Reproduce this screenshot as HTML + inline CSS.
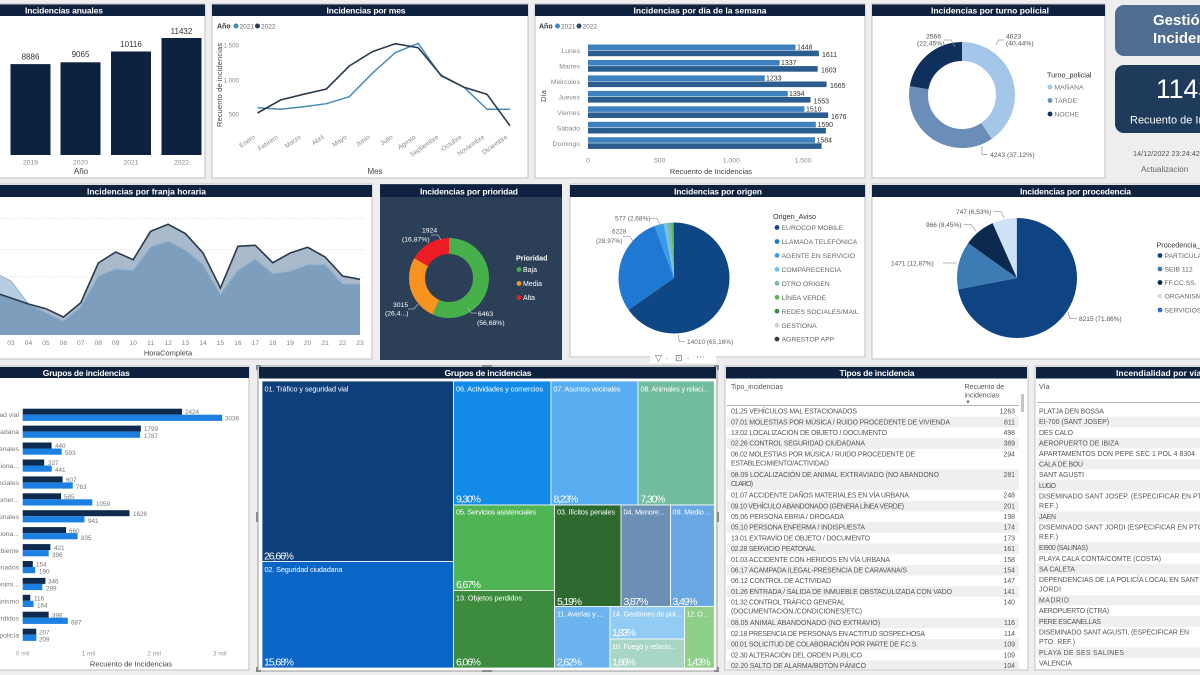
<!DOCTYPE html>
<html><head><meta charset="utf-8">
<style>
html,body{margin:0;padding:0;background:#eeeeee;overflow:hidden;}
svg{display:block;font-family:"Liberation Sans",sans-serif;}
.tt{font-weight:bold;font-size:8.5px;fill:#fff;}
.s7{font-size:7px;fill:#666;}
.s7d{font-size:7px;fill:#444;}
.ax{font-size:7.5px;fill:#444;}
.row{font-size:6.9px;fill:#555;}
.w{fill:#fff;}
</style></head><body>
<svg width="1200" height="675" viewBox="0 0 1200 675" xmlns="http://www.w3.org/2000/svg">
<rect width="1200" height="675" fill="#eeeeee"/>

<!-- ============ PANEL A: Incidencias anuales ============ -->
<rect x="-40" y="4" width="245" height="174" fill="#fff" stroke="#c2c2c2"/>
<rect x="-40" y="4.5" width="245" height="11.5" fill="#0e2240"/>
<text x="64" y="13.5" text-anchor="middle" class="tt" textLength="78">Incidencias anuales</text>
<g fill="#0c2240">
<rect x="10.5" y="64.1" width="40" height="90.9"/>
<rect x="60.5" y="62.3" width="40" height="92.7"/>
<rect x="111" y="51.5" width="40" height="103.5"/>
<rect x="161.5" y="38" width="40" height="117"/>
</g>
<g font-size="8px" fill="#333" text-anchor="middle">
<text x="30.5" y="59.5">8886</text>
<text x="80.5" y="57">9065</text>
<text x="131" y="47">10116</text>
<text x="181.5" y="34">11432</text>
</g>
<g font-size="6.8px" text-anchor="middle" fill="#888">
<text x="30.5" y="164.5">2019</text>
<text x="80.5" y="164.5">2020</text>
<text x="131" y="164.5">2021</text>
<text x="181.5" y="164.5">2022</text>
</g>
<text x="81" y="174" text-anchor="middle" font-size="8px" fill="#444">Año</text>

<!-- ============ PANEL B: Incidencias por mes ============ -->
<rect x="212" y="4" width="316" height="174" fill="#fff" stroke="#c2c2c2"/>
<rect x="212" y="4.5" width="316" height="11.5" fill="#0e2240"/>
<text x="366" y="13.5" text-anchor="middle" class="tt" textLength="79">Incidencias por mes</text>
<text x="217" y="28.5" font-size="7px" font-weight="bold" fill="#333">Año</text>
<circle cx="236" cy="26" r="2.5" fill="#3f8cc0"/>
<text x="239.5" y="28.5" font-size="6.5px" fill="#666">2021</text>
<circle cx="257.5" cy="26" r="2.5" fill="#2d3d4f"/>
<text x="261" y="28.5" font-size="6.5px" fill="#666">2022</text>
<g font-size="6.2px" text-anchor="end" fill="#888">
<text x="239" y="47.5">1.500</text>
<text x="239" y="82.5">1.000</text>
<text x="239" y="116.5">500</text>
</g>
<text transform="translate(222 85) rotate(-90)" text-anchor="middle" class="ax" textLength="84">Recuento de incidencias</text>
<polyline fill="none" stroke="#4a8cba" stroke-width="1.5" points="257.5,107.7 280.5,109.3 303.4,106.7 326.4,103.7 349.3,96.7 372.3,73.3 395.2,52.7 418.2,43.3 441.1,76 464.1,87.3 487,109.3 510,109.3"/>
<polyline fill="none" stroke="#2c3b4c" stroke-width="1.6" points="257.5,113 280.5,100 303.4,94.3 326.4,89 349.3,66 372.3,51.7 395.2,43.7 418.2,47.7 441.1,75.3 464.1,87.3 487,94.3 510,125.7"/>
<g font-size="6.5px" fill="#888" text-anchor="end">
<text transform="translate(255.5 138) rotate(-35)">Enero</text>
<text transform="translate(278.5 138) rotate(-35)">Febrero</text>
<text transform="translate(301.4 138) rotate(-35)">Marzo</text>
<text transform="translate(324.4 138) rotate(-35)">Abril</text>
<text transform="translate(347.3 138) rotate(-35)">Mayo</text>
<text transform="translate(370.3 138) rotate(-35)">Junio</text>
<text transform="translate(393.2 138) rotate(-35)">Julio</text>
<text transform="translate(416.2 138) rotate(-35)">Agosto</text>
<text transform="translate(439.1 138) rotate(-35)">Septiembre</text>
<text transform="translate(462.1 138) rotate(-35)">Octubre</text>
<text transform="translate(485 138) rotate(-35)">Noviembre</text>
<text transform="translate(508 138) rotate(-35)">Diciembre</text>
</g>
<text x="375" y="174" text-anchor="middle" font-size="8px" fill="#444">Mes</text>

<!-- ============ PANEL C: día de la semana ============ -->
<rect x="535" y="4" width="330" height="174" fill="#fff" stroke="#c2c2c2"/>
<rect x="535" y="4.5" width="330" height="11.5" fill="#0e2240"/>
<text x="700" y="13.5" text-anchor="middle" class="tt" textLength="133">Incidencias por día de la semana</text>
<text x="539" y="28.5" font-size="7px" font-weight="bold" fill="#333">Año</text>
<circle cx="557.5" cy="26" r="2.5" fill="#3b86c4"/>
<text x="561" y="28.5" font-size="6.5px" fill="#666">2021</text>
<circle cx="579" cy="26" r="2.5" fill="#27486c"/>
<text x="582.5" y="28.5" font-size="6.5px" fill="#666">2022</text>
<g fill="#3d82bf">
<rect x="588" y="44.5" width="207.5" height="5.6"/>
<rect x="588" y="60" width="191.6" height="5.6"/>
<rect x="588" y="75.4" width="176.7" height="5.6"/>
<rect x="588" y="90.9" width="199.8" height="5.6"/>
<rect x="588" y="106.3" width="216.4" height="5.6"/>
<rect x="588" y="121.8" width="227.8" height="5.6"/>
<rect x="588" y="137.2" width="227" height="5.6"/>
</g>
<g fill="#2b5d8e">
<rect x="588" y="50.6" width="230.9" height="5.6"/>
<rect x="588" y="66.1" width="229.7" height="5.6"/>
<rect x="588" y="81.5" width="238.6" height="5.6"/>
<rect x="588" y="97" width="222.5" height="5.6"/>
<rect x="588" y="112.4" width="240.2" height="5.6"/>
<rect x="588" y="127.9" width="237.9" height="5.6"/>
<rect x="588" y="143.3" width="233.6" height="5.6"/>
</g>
<g font-size="7px" fill="#333">
<text x="797" y="49.5">1448</text><text x="822" y="57">1611</text>
<text x="781" y="65">1337</text><text x="821" y="72.5">1603</text>
<text x="766" y="80.5">1233</text><text x="830" y="88">1665</text>
<text x="789" y="96">1394</text><text x="813.5" y="103.5">1553</text>
<text x="806" y="111.5">1510</text><text x="831" y="119">1676</text>
<text x="817.5" y="127">1590</text>
<text x="816.5" y="142.5">1584</text>
</g>
<g font-size="6.8px" fill="#888" text-anchor="end">
<text x="580" y="53">Lunes</text>
<text x="580" y="68.5">Martes</text>
<text x="580" y="84">Miércoles</text>
<text x="580" y="99.5">Jueves</text>
<text x="580" y="115">Viernes</text>
<text x="580" y="130.5">Sábado</text>
<text x="580" y="146">Domingo</text>
</g>
<text transform="translate(546 96) rotate(-90)" text-anchor="middle" class="ax">Día</text>
<g font-size="6.8px" fill="#888" text-anchor="middle">
<text x="588" y="162.5">0</text>
<text x="659.7" y="162.5">500</text>
<text x="731.3" y="162.5">1.000</text>
<text x="803" y="162.5">1.500</text>
</g>
<text x="711" y="174" text-anchor="middle" class="ax">Recuento de Incidencias</text>

<!-- ============ PANEL D: turno policial ============ -->
<rect x="872" y="4" width="233" height="174" fill="#fff" stroke="#c2c2c2"/>
<rect x="872" y="4.5" width="233" height="11.5" fill="#0e2240"/>
<text x="990" y="13.5" text-anchor="middle" class="tt" textLength="118">Incidencias por turno policial</text>
<g transform="rotate(-90 962 95)" fill="none" stroke-width="19">
<circle cx="962" cy="95" r="43.5" stroke="#a3c6e9" stroke-dasharray="110.53 273.32" stroke-dashoffset="0"/>
<circle cx="962" cy="95" r="43.5" stroke="#6a8eb7" stroke-dasharray="101.46 273.32" stroke-dashoffset="-110.53"/>
<circle cx="962" cy="95" r="43.5" stroke="#0f2f5d" stroke-dasharray="61.33 273.32" stroke-dashoffset="-211.99"/>
</g>
<g font-size="6.8px" fill="#555">
<text x="926" y="38.5">2566</text>
<text x="917" y="45.5">(22,45%)</text>
<text x="1006" y="38.5">4623</text>
<text x="1006" y="45.5">(40,44%)</text>
<text x="990" y="157">4243 (37,12%)</text>
</g>
<g stroke="#999" stroke-width="0.7" fill="none">
<polyline points="944,40 951,40 955,47"/>
<polyline points="1004,40 999,40 996,45"/>
<polyline points="982,146 982,154.5 988,154.5"/>
</g>
<text x="1047" y="77.5" font-size="7.2px" fill="#333">Turno_policial</text>
<circle cx="1050" cy="87" r="2.4" fill="#a3c6e9"/><text x="1054.5" y="89.5" font-size="6.8px" fill="#777">MAÑANA</text>
<circle cx="1050" cy="100.5" r="2.4" fill="#6a8eb7"/><text x="1054.5" y="103" font-size="6.8px" fill="#777">TARDE</text>
<circle cx="1050" cy="114" r="2.4" fill="#0f2f5d"/><text x="1054.5" y="116.5" font-size="6.8px" fill="#777">NOCHE</text>

<!-- ============ RIGHT CARD ============ -->
<rect x="1115" y="5" width="180" height="51" rx="9" fill="#4e6d90"/>
<text x="1153" y="25" font-size="15px" font-weight="bold" fill="#fff">Gestión de</text>
<text x="1153" y="43" font-size="15px" font-weight="bold" fill="#fff">Incidencias</text>
<rect x="1115" y="65" width="180" height="68" rx="9" fill="#1f3b5c"/>
<text x="1156" y="98" font-size="26.5px" fill="#fff">11432</text>
<text x="1130" y="123.5" font-size="11px" fill="#fff">Recuento de Incidencias</text>
<text x="1133" y="156" font-size="7.3px" fill="#555">14/12/2022 23:24:42</text>
<text x="1141" y="172" font-size="8px" fill="#666">Actualizacion</text>

<!-- ============ PANEL E: franja horaria ============ -->
<rect x="-40" y="184" width="412" height="175" fill="#fff" stroke="#c2c2c2"/>
<rect x="-40" y="185" width="412" height="12" fill="#0e2240"/>
<text x="146.5" y="194.5" text-anchor="middle" class="tt" textLength="119">Incidencias por franja horaria</text>
<g stroke="#e2e2e2" stroke-dasharray="1.5 1.5" stroke-width="0.8">
<line x1="0" y1="218.7" x2="365" y2="218.7"/>
<line x1="0" y1="249.7" x2="365" y2="249.7"/>
<line x1="0" y1="277" x2="365" y2="277"/>
</g>
<path fill="#a8bacb" d="M-10,335 L-10,292 L0,294.3 L11,298 L28.5,304 L45.9,308.7 L63.4,317 L80.8,302.7 L98.3,263 L115.7,252 L133.2,259.7 L150.6,231.3 L168.1,224.3 L185.5,233.7 L203,253 L220.4,288 L237.9,246.3 L255.3,245.3 L272.8,262.7 L290.2,253 L307.7,247.3 L325.1,257 L342.6,276 L360,279.3 L360,335 Z"/>
<path fill="#b7cde2" d="M-10,335 L-10,274 L0,275.5 L11,281 L28.5,304 L45.9,312.7 L63.4,321 L80.8,307 L98.3,276 L115.7,269 L133.2,270.3 L150.6,247 L168.1,241.3 L185.5,250.3 L203,264.7 L220.4,294.3 L237.9,270.3 L255.3,259.3 L272.8,273.7 L290.2,271.3 L307.7,264.7 L325.1,264.7 L342.6,284 L360,284 L360,335 Z"/>
<path fill="#7e9ebe" d="M-10,335 L-10,292 L0,294.3 L11,298 L28.5,304 L45.9,312.7 L63.4,321 L80.8,307 L98.3,276 L115.7,269 L133.2,270.3 L150.6,247 L168.1,241.3 L185.5,250.3 L203,264.7 L220.4,294.3 L237.9,270.3 L255.3,259.3 L272.8,273.7 L290.2,271.3 L307.7,264.7 L325.1,264.7 L342.6,284 L360,284 L360,335 Z"/>
<polyline fill="none" stroke="#90b0cd" stroke-width="1" points="-10,274 0,275.5 11,281 28.5,304 45.9,312.7 63.4,321 80.8,307 98.3,276 115.7,269 133.2,270.3 150.6,247 168.1,241.3 185.5,250.3 203,264.7 220.4,294.3 237.9,270.3 255.3,259.3 272.8,273.7 290.2,271.3 307.7,264.7 325.1,264.7 342.6,284 360,284"/>
<polyline fill="none" stroke="#2b3a4b" stroke-width="1.6" points="-10,292 0,294.3 11,298 28.5,304 45.9,308.7 63.4,317 80.8,302.7 98.3,263 115.7,252 133.2,259.7 150.6,231.3 168.1,224.3 185.5,233.7 203,253 220.4,288 237.9,246.3 255.3,245.3 272.8,262.7 290.2,253 307.7,247.3 325.1,257 342.6,276 360,279.3"/>
<g font-size="6.8px" fill="#888" text-anchor="middle">
<text x="11" y="345">03</text><text x="28.5" y="345">04</text><text x="45.9" y="345">05</text><text x="63.4" y="345">06</text><text x="80.8" y="345">07</text><text x="98.3" y="345">08</text><text x="115.7" y="345">09</text><text x="133.2" y="345">10</text><text x="150.6" y="345">11</text><text x="168.1" y="345">12</text><text x="185.5" y="345">13</text><text x="203" y="345">14</text><text x="220.4" y="345">15</text><text x="237.9" y="345">16</text><text x="255.3" y="345">17</text><text x="272.8" y="345">18</text><text x="290.2" y="345">19</text><text x="307.7" y="345">20</text><text x="325.1" y="345">21</text><text x="342.6" y="345">22</text><text x="360" y="345">23</text>
</g>
<text x="168" y="355.5" text-anchor="middle" class="ax">HoraCompleta</text>

<!-- ============ PANEL F: prioridad ============ -->
<rect x="380" y="184" width="182" height="176" fill="#2b3f57"/>
<rect x="380" y="185" width="182" height="12" fill="#0e2240"/>
<text x="469" y="194.5" text-anchor="middle" class="tt" textLength="98">Incidencias por prioridad</text>
<g transform="rotate(-90 449 278)" fill="none" stroke-width="16">
<circle cx="449" cy="278" r="32" stroke="#47b04b" stroke-dasharray="113.96 201.06" stroke-dashoffset="0"/>
<circle cx="449" cy="278" r="32" stroke="#f7931e" stroke-dasharray="53.18 201.06" stroke-dashoffset="-113.96"/>
<circle cx="449" cy="278" r="32" stroke="#ec1c24" stroke-dasharray="33.92 201.06" stroke-dashoffset="-167.14"/>
</g>
<g font-size="6.8px" fill="#fff">
<text x="422" y="232.5">1924</text>
<text x="402" y="241.5">(16,87%)</text>
<text x="393" y="307">3015</text>
<text x="385" y="315.5">(26,4...)</text>
<text x="478" y="316">6463</text>
<text x="477" y="325">(56,68%)</text>
</g>
<g stroke="#b0b8c4" stroke-width="0.7" fill="none">
<polyline points="431,235 438,235 441,240"/>
<polyline points="408,309 414,309 418,304"/>
<polyline points="477,313 471,313 468,308"/>
</g>
<text x="516" y="260.5" font-size="7.2px" font-weight="bold" fill="#fff">Prioridad</text>
<circle cx="519" cy="269.5" r="2.4" fill="#47b04b"/><text x="523" y="272" font-size="7px" fill="#fff">Baja</text>
<circle cx="519" cy="283.5" r="2.4" fill="#f7931e"/><text x="523" y="286" font-size="7px" fill="#fff">Media</text>
<circle cx="519" cy="297.5" r="2.4" fill="#ec1c24"/><text x="523" y="300" font-size="7px" fill="#fff">Alta</text>

<!-- ============ PANEL G: origen ============ -->
<rect x="570" y="184" width="295" height="173" fill="#fff" stroke="#c2c2c2"/>
<rect x="570" y="185" width="295" height="12" fill="#0e2240"/>
<text x="718" y="194.5" text-anchor="middle" class="tt" textLength="88">Incidencias por origen</text>
<g transform="rotate(-90 674 278)" fill="none" stroke-width="55.5">
<circle cx="674" cy="278" r="27.75" stroke="#0f4684" stroke-dasharray="113.61 174.36" stroke-dashoffset="0"/>
<circle cx="674" cy="278" r="27.75" stroke="#1f78d1" stroke-dasharray="50.51 174.36" stroke-dashoffset="-113.61"/>
<circle cx="674" cy="278" r="27.75" stroke="#3c9be6" stroke-dasharray="4.67 174.36" stroke-dashoffset="-164.12"/>
<circle cx="674" cy="278" r="27.75" stroke="#6fc0ea" stroke-dasharray="1.92 174.36" stroke-dashoffset="-168.79"/>
<circle cx="674" cy="278" r="27.75" stroke="#7fb7a7" stroke-dasharray="1.74 174.36" stroke-dashoffset="-170.71"/>
<circle cx="674" cy="278" r="27.75" stroke="#5cb85c" stroke-dasharray="1.05 174.36" stroke-dashoffset="-172.45"/>
<circle cx="674" cy="278" r="27.75" stroke="#3c8a4a" stroke-dasharray="0.52 174.36" stroke-dashoffset="-173.5"/>
<circle cx="674" cy="278" r="27.75" stroke="#c9d8cc" stroke-dasharray="0.17 174.36" stroke-dashoffset="-174.02"/>
<circle cx="674" cy="278" r="27.75" stroke="#3a3a3a" stroke-dasharray="0.17 174.36" stroke-dashoffset="-174.19"/>
</g>
<g font-size="6.5px" fill="#666">
<text x="615" y="220.5">577 (2,68%)</text>
<text x="612" y="233.5">6228</text>
<text x="596" y="243">(28,97%)</text>
<text x="687" y="344">14010 (65,16%)</text>
</g>
<g stroke="#999" stroke-width="0.7" fill="none">
<polyline points="650,218.3 657,218.3 660,224"/>
<polyline points="623,236.7 630,236.7 633,241"/>
<polyline points="678.3,335 679.3,341.7 685,341.7"/>
</g>
<text x="773" y="219" font-size="7.2px" fill="#333">Origen_Aviso</text>
<g font-size="6.8px" fill="#666">
<circle cx="777" cy="227.5" r="2.4" fill="#0f4684"/><text x="781.5" y="230">EUROCOP MOBILE</text>
<circle cx="777" cy="241.5" r="2.4" fill="#1f78d1"/><text x="781.5" y="244">LLAMADA TELEFÓNICA</text>
<circle cx="777" cy="255.4" r="2.4" fill="#3c9be6"/><text x="781.5" y="258">AGENTE EN SERVICIO</text>
<circle cx="777" cy="269.4" r="2.4" fill="#6fc0ea"/><text x="781.5" y="272">COMPARECENCIA</text>
<circle cx="777" cy="283.3" r="2.4" fill="#7fb7a7"/><text x="781.5" y="286">OTRO ORIGEN</text>
<circle cx="777" cy="297.3" r="2.4" fill="#5cb85c"/><text x="781.5" y="300">LÍNEA VERDE</text>
<circle cx="777" cy="311.2" r="2.4" fill="#3c8a4a"/><text x="781.5" y="314">REDES SOCIALES/MAIL</text>
<circle cx="777" cy="325.2" r="2.4" fill="#c9d8cc"/><text x="781.5" y="328">GESTIONA</text>
<circle cx="777" cy="339.1" r="2.4" fill="#3a3a3a"/><text x="781.5" y="341.5">AGRESTOP APP</text>
</g>

<!-- ============ PANEL H: procedencia ============ -->
<rect x="872" y="184" width="400" height="175" fill="#fff" stroke="#c2c2c2"/>
<rect x="872" y="185" width="400" height="12" fill="#0e2240"/>
<text x="1075.5" y="194.5" text-anchor="middle" class="tt" textLength="111">Incidencias por procedencia</text>
<g transform="rotate(-90 1017 278)" fill="none" stroke-width="60">
<circle cx="1017" cy="278" r="30" stroke="#0e4481" stroke-dasharray="135.46 188.5" stroke-dashoffset="0"/>
<circle cx="1017" cy="278" r="30" stroke="#3c7bb3" stroke-dasharray="24.26 188.5" stroke-dashoffset="-135.46"/>
<circle cx="1017" cy="278" r="30" stroke="#0b2a4e" stroke-dasharray="15.93 188.5" stroke-dashoffset="-159.72"/>
<circle cx="1017" cy="278" r="30" stroke="#cde3f5" stroke-dasharray="12.31 188.5" stroke-dashoffset="-175.65"/>
<circle cx="1017" cy="278" r="30" stroke="#2e6bc8" stroke-dasharray="0.55 188.5" stroke-dashoffset="-187.96"/>
</g>
<g font-size="6.5px" fill="#555">
<text x="956" y="214">747 (6,53%)</text>
<text x="926" y="227">966 (8,45%)</text>
<text x="891" y="265.5">1471 (12,87%)</text>
<text x="1079" y="321">8215 (71,86%)</text>
</g>
<g stroke="#999" stroke-width="0.7" fill="none">
<polyline points="994,211.5 1001,211.5 1004,218"/>
<polyline points="964,224.5 971,224.5 976,231"/>
<polyline points="943,263 957,263"/>
<polyline points="1068,312 1070,318.5 1077,318.5"/>
</g>
<text x="1156.5" y="247.5" font-size="7.2px" fill="#333">Procedencia_Aviso</text>
<g font-size="6.8px" fill="#666">
<circle cx="1160" cy="255.5" r="2.4" fill="#0e4481"/><text x="1164.5" y="258">PARTICULAR</text>
<circle cx="1160" cy="269" r="2.4" fill="#3c7bb3"/><text x="1164.5" y="271.5">SEIB 112</text>
<circle cx="1160" cy="282.5" r="2.4" fill="#0b2a4e"/><text x="1164.5" y="285">FF.CC.SS.</text>
<circle cx="1160" cy="296" r="2.4" fill="#d3dde8"/><text x="1164.5" y="298.5">ORGANISMOS</text>
<circle cx="1160" cy="310" r="2.4" fill="#2e6bc8"/><text x="1164.5" y="312.5">SERVICIOS</text>
</g>

<!-- ============ PANEL I: Grupos de incidencias (bars) ============ -->
<rect x="-80" y="366" width="329" height="304" fill="#fff" stroke="#c2c2c2"/>
<rect x="-80" y="367" width="329" height="11" fill="#0e2240"/>
<text x="86.3" y="376" text-anchor="middle" class="tt" textLength="87">Grupos de incidencias</text>
<g fill="#0d2a4f">
<rect x="22.7" y="408.7" width="159.3" height="6"/>
<rect x="22.7" y="425.6" width="118.2" height="6"/>
<rect x="22.7" y="442.5" width="28.9" height="6"/>
<rect x="22.7" y="459.5" width="21.5" height="6"/>
<rect x="22.7" y="476.4" width="39.9" height="6"/>
<rect x="22.7" y="493.3" width="38.4" height="6"/>
<rect x="22.7" y="510.2" width="106.8" height="6"/>
<rect x="22.7" y="527.1" width="43.4" height="6"/>
<rect x="22.7" y="544.1" width="27.7" height="6"/>
<rect x="22.7" y="561" width="10.1" height="6"/>
<rect x="22.7" y="577.9" width="22.7" height="6"/>
<rect x="22.7" y="594.8" width="7.6" height="6"/>
<rect x="22.7" y="611.7" width="26" height="6"/>
<rect x="22.7" y="628.7" width="13.6" height="6"/>
</g>
<g fill="#1c80e3">
<rect x="22.7" y="414.7" width="199.5" height="6.2"/>
<rect x="22.7" y="431.6" width="117.4" height="6.2"/>
<rect x="22.7" y="448.5" width="39" height="6.2"/>
<rect x="22.7" y="465.5" width="29" height="6.2"/>
<rect x="22.7" y="482.4" width="50.1" height="6.2"/>
<rect x="22.7" y="499.3" width="69.6" height="6.2"/>
<rect x="22.7" y="516.2" width="61.8" height="6.2"/>
<rect x="22.7" y="533.1" width="54.9" height="6.2"/>
<rect x="22.7" y="550.1" width="26" height="6.2"/>
<rect x="22.7" y="567" width="12.5" height="6.2"/>
<rect x="22.7" y="583.9" width="19.6" height="6.2"/>
<rect x="22.7" y="600.8" width="10.8" height="6.2"/>
<rect x="22.7" y="617.7" width="45.1" height="6.2"/>
<rect x="22.7" y="634.7" width="13.7" height="6.2"/>
</g>
<g font-size="6.3px" fill="#777">
<text x="185" y="414">2424</text><text x="225" y="420.5">3036</text>
<text x="144" y="431">1799</text><text x="144" y="438">1787</text>
<text x="55" y="448">440</text><text x="65" y="455">593</text>
<text x="48" y="465">327</text><text x="55" y="472">441</text>
<text x="66" y="482">607</text><text x="76" y="489">763</text>
<text x="64" y="499">585</text><text x="96" y="506">1059</text>
<text x="133" y="516">1626</text><text x="88" y="523">941</text>
<text x="69" y="533">660</text><text x="81" y="540">835</text>
<text x="54" y="550">421</text><text x="52" y="557">396</text>
<text x="36" y="566.5">154</text><text x="39" y="573.5">190</text>
<text x="48" y="583.5">346</text><text x="46" y="590.5">299</text>
<text x="34" y="600.5">116</text><text x="37" y="607.5">164</text>
<text x="52" y="617.5">396</text><text x="71" y="624.5">687</text>
<text x="39" y="634.5">207</text><text x="39" y="641.5">209</text>
</g>
<g font-size="6.8px" fill="#777" text-anchor="end">
<text x="19" y="417">01. Tráfico y seguridad vial</text>
<text x="19" y="434">02. Seguridad ciudadana</text>
<text x="19" y="451">03. Ilícitos penales</text>
<text x="19" y="468">04. Menores y relaciona...</text>
<text x="19" y="485">05. Servicios asistenciales</text>
<text x="19" y="502">06. Actividades y comer...</text>
<text x="19" y="519">07. Asuntos vecinales</text>
<text x="19" y="536">08. Animales y relaciona...</text>
<text x="19" y="553">09. Medio ambiente</text>
<text x="19" y="569.5">10. Fuego y relacionados</text>
<text x="19" y="586.5">11. Averías y mantenimi...</text>
<text x="19" y="603.5">12. Orden y urbanismo</text>
<text x="19" y="620.5">13. Objetos perdidos</text>
<text x="19" y="637.5">14. Gestiones de policía</text>
</g>
<g font-size="6.5px" fill="#999" text-anchor="middle">
<text x="22.7" y="655.5">0 mil</text>
<text x="88.4" y="655.5">1 mil</text>
<text x="154.1" y="655.5">2 mil</text>
<text x="219.8" y="655.5">3 mil</text>
</g>
<text x="131" y="666.5" text-anchor="middle" class="ax">Recuento de Incidencias</text>

<!-- ============ PANEL J: treemap ============ -->
<rect x="258" y="366" width="459" height="305" fill="#fff" stroke="#9a9a9a"/>
<rect x="259" y="367" width="457" height="11.5" fill="#0e2240"/>
<text x="488" y="376.2" text-anchor="middle" class="tt" textLength="87">Grupos de incidencias</text>
<g stroke="#fff" stroke-width="0.8">
<rect x="262" y="381" width="191.5" height="180.5" fill="#0d3f7a"/>
<rect x="262" y="561.5" width="191.5" height="106.5" fill="#0a65c6"/>
<rect x="453.5" y="381" width="97.5" height="124" fill="#118ae8"/>
<rect x="551" y="381" width="87" height="124" fill="#57adf0"/>
<rect x="638" y="381" width="76.3" height="124" fill="#72bd9f"/>
<rect x="453.5" y="505" width="101" height="85.5" fill="#4fb453"/>
<rect x="453.5" y="590.5" width="101" height="77.5" fill="#3c8b3f"/>
<rect x="554.5" y="505" width="66.5" height="101.5" fill="#2e6a30"/>
<rect x="621" y="505" width="49.5" height="101.5" fill="#6c8fb6"/>
<rect x="670.5" y="505" width="43.8" height="101.5" fill="#69a7e2"/>
<rect x="554.5" y="606.5" width="55.5" height="61.5" fill="#6bb4ef"/>
<rect x="610" y="606.5" width="74.5" height="32.5" fill="#92cbf3"/>
<rect x="610" y="639" width="74.5" height="29" fill="#a8d6c5"/>
<rect x="684.5" y="606.5" width="29.8" height="61.5" fill="#8ecf8a"/>
</g>
<g font-size="7.3px" fill="#fff">
<text x="264.5" y="391.5" textLength="84">01. Tráfico y seguridad vial</text>
<text x="264.5" y="572" textLength="78">02. Seguridad ciudadana</text>
<text x="456" y="391.5" textLength="87">06. Actividades y comercios</text>
<text x="553.5" y="391.5" textLength="67">07. Asuntos vecinales</text>
<text x="640.5" y="391.5" textLength="68">08. Animales y relaci...</text>
<text x="456" y="514.5" textLength="80">05. Servicios asistenciales</text>
<text x="456" y="600.5" textLength="66">13. Objetos perdidos</text>
<text x="557" y="514.5" textLength="58">03. Ilícitos penales</text>
<text x="623.5" y="514.5" textLength="41">04. Menore...</text>
<text x="672.5" y="514.5" textLength="39">09. Medio ...</text>
<text x="557" y="616.5" textLength="46">11. Averías y ...</text>
<text x="612" y="616.5" textLength="69">14. Gestiones de pol...</text>
<text x="612" y="649" textLength="64">10. Fuego y relacio...</text>
<text x="686.5" y="616.5" textLength="21">12. O...</text>
</g>
<g font-size="10.5px" fill="#fff">
<text x="264" y="559.5" textLength="30">26,66%</text>
<text x="264" y="665.5" textLength="30">15,68%</text>
<text x="456" y="502.5" textLength="25">9,30%</text>
<text x="553.5" y="502.5" textLength="25">8,23%</text>
<text x="640.5" y="502.5" textLength="25">7,30%</text>
<text x="456" y="588" textLength="25">6,67%</text>
<text x="456" y="665.5" textLength="25">6,06%</text>
<text x="557" y="605" textLength="25">5,19%</text>
<text x="623.5" y="605" textLength="25">3,87%</text>
<text x="672.5" y="605" textLength="25">3,49%</text>
<text x="557" y="665.5" textLength="25">2,62%</text>
<text x="612" y="636" textLength="24">1,83%</text>
<text x="612" y="665.5" textLength="24">1,66%</text>
<text x="686.5" y="665.5" textLength="24">1,43%</text>
</g>
<g fill="#8a8a8a">
<rect x="256" y="365" width="5" height="2"/><rect x="256" y="365" width="2" height="5"/>
<rect x="714" y="365" width="5" height="2"/><rect x="717" y="365" width="2" height="5"/>
<rect x="256" y="670" width="5" height="2"/><rect x="256" y="667" width="2" height="5"/>
<rect x="714" y="670" width="5" height="2"/><rect x="717" y="667" width="2" height="5"/>
<rect x="256" y="512" width="2.5" height="10"/><rect x="716.5" y="512" width="2.5" height="10"/>
<rect x="482" y="365" width="10" height="2"/><rect x="482" y="670" width="10" height="2"/>
</g>
<rect x="650" y="351" width="66" height="12" fill="#fff"/>
<g font-size="9px" fill="#666" font-family="DejaVu Sans, sans-serif">
<text x="655" y="361">▽</text>
<text x="666" y="360" font-size="6px">-</text>
<text x="675" y="361">⊡</text>
<text x="687" y="360" font-size="6px">-</text>
<text x="696" y="360">···</text>
</g>

<!-- ============ PANEL K: Tipos de incidencia ============ -->
<rect x="725" y="366" width="303" height="304" fill="#fff" stroke="#c2c2c2"/>
<rect x="726" y="367" width="301" height="11.5" fill="#0e2240"/>
<text x="877" y="376.2" text-anchor="middle" class="tt" textLength="75">Tipos de incidencia</text>
<text x="731" y="389" font-size="7px" fill="#555">Tipo_incidencias</text>
<text x="964.5" y="389" font-size="7px" fill="#555">Recuento de</text>
<text x="964.5" y="397.5" font-size="7px" fill="#555">incidencias</text>
<text x="965.5" y="403.5" font-size="5px" fill="#555">▼</text>
<line x1="727" y1="405.5" x2="1019" y2="405.5" stroke="#9a9a9a" stroke-width="0.8"/>
<g fill="#efefef">
<rect x="727" y="416.7" width="292" height="10.7"/>
<rect x="727" y="438.1" width="292" height="10.7"/>
<rect x="727" y="469.4" width="292" height="20.6"/>
<rect x="727" y="500.7" width="292" height="10.7"/>
<rect x="727" y="522.1" width="292" height="10.7"/>
<rect x="727" y="543.5" width="292" height="10.7"/>
<rect x="727" y="564.9" width="292" height="10.7"/>
<rect x="727" y="586.3" width="292" height="10.7"/>
<rect x="727" y="617.6" width="292" height="10.7"/>
<rect x="727" y="639" width="292" height="10.7"/>
<rect x="727" y="660.4" width="292" height="8.6"/>
</g>
<g class="row">
<text x="731" y="413.6" textLength="126">01.25 VEHÍCULOS MAL ESTACIONADOS</text>
<text x="731" y="424.3" textLength="219">07.01 MOLESTIAS POR MÚSICA / RUIDO PROCEDENTE DE VIVIENDA</text>
<text x="731" y="435" textLength="156">13.02 LOCALIZACIÓN DE OBJETO / DOCUMENTO</text>
<text x="731" y="445.7" textLength="134">02.26 CONTROL SEGURIDAD CIUDADANA</text>
<text x="731" y="456.4" textLength="184">06.02 MOLESTIAS POR MÚSICA / RUIDO PROCEDENTE DE</text>
<text x="731" y="465.4" textLength="98">ESTABLECIMIENTO/ACTIVIDAD</text>
<text x="731" y="477" textLength="208">08.09 LOCALIZACIÓN DE ANIMAL EXTRAVIADO (NO ABANDONO</text>
<text x="731" y="486" textLength="22">CLARO)</text>
<text x="731" y="497.6" textLength="178">01.07 ACCIDENTE DAÑOS MATERIALES EN VÍA URBANA</text>
<text x="731" y="508.3" textLength="173">09.10 VEHÍCULO ABANDONADO (GENERA LÍNEA VERDE)</text>
<text x="731" y="519" textLength="113">05.06 PERSONA EBRIA / DROGADA</text>
<text x="731" y="529.7" textLength="134">05.10 PERSONA ENFERMA / INDISPUESTA</text>
<text x="731" y="540.4" textLength="139">13.01 EXTRAVÍO DE OBJETO / DOCUMENTO</text>
<text x="731" y="551.1" textLength="85">02.28 SERVICIO PEATONAL</text>
<text x="731" y="561.8" textLength="159">01.03 ACCIDENTE CON HERIDOS EN VÍA URBANA</text>
<text x="731" y="572.5" textLength="176">06.17 ACAMPADA ILEGAL-PRESENCIA DE CARAVANA/S</text>
<text x="731" y="583.2" textLength="100">06.12 CONTROL DE ACTIVIDAD</text>
<text x="731" y="593.9" textLength="221">01.26 ENTRADA / SALIDA DE INMUEBLE OBSTACULIZADA CON VADO</text>
<text x="731" y="604.6" textLength="114">01.32 CONTROL TRÁFICO GENERAL</text>
<text x="731" y="613.6" textLength="131">(DOCUMENTACIÓN./CONDICIONES/ETC)</text>
<text x="731" y="625.2" textLength="149">08.05 ANIMAL ABANDONADO (NO EXTRAVIO)</text>
<text x="731" y="635.9" textLength="194">02.18 PRESENCIA DE PERSONA/S EN ACTITUD SOSPECHOSA</text>
<text x="731" y="646.6" textLength="187">00.01 SOLICITUD DE COLABORACIÓN POR PARTE DE F.C.S.</text>
<text x="731" y="657.3" textLength="131">02.30 ALTERACIÓN DEL ORDEN PÚBLICO</text>
<text x="731" y="668" textLength="135">02.20 SALTO DE ALARMA/BOTÓN PÁNICO</text>
</g>
<g class="row" text-anchor="end">
<text x="1015" y="413.6">1263</text>
<text x="1015" y="424.3">811</text>
<text x="1015" y="435">498</text>
<text x="1015" y="445.7">389</text>
<text x="1015" y="456.4">294</text>
<text x="1015" y="477">281</text>
<text x="1015" y="497.6">248</text>
<text x="1015" y="508.3">201</text>
<text x="1015" y="519">198</text>
<text x="1015" y="529.7">174</text>
<text x="1015" y="540.4">173</text>
<text x="1015" y="551.1">161</text>
<text x="1015" y="561.8">158</text>
<text x="1015" y="572.5">154</text>
<text x="1015" y="583.2">147</text>
<text x="1015" y="593.9">141</text>
<text x="1015" y="604.6">140</text>
<text x="1015" y="625.2">116</text>
<text x="1015" y="635.9">114</text>
<text x="1015" y="646.6">109</text>
<text x="1015" y="657.3">109</text>
<text x="1015" y="668">104</text>
</g>
<rect x="1021" y="394" width="3" height="18" fill="#c4c4c4"/>

<!-- ============ PANEL L: Incendialidad por vías ============ -->
<rect x="1035" y="366" width="200" height="304" fill="#fff" stroke="#c2c2c2"/>
<rect x="1036" y="367" width="200" height="11.5" fill="#0e2240"/>
<text x="1116" y="376.2" class="tt" textLength="90">Incendialidad por vías</text>
<text x="1039" y="389" font-size="7px" fill="#555">Vía</text>
<line x1="1037" y1="402.5" x2="1200" y2="402.5" stroke="#9a9a9a" stroke-width="0.8"/>
<g fill="#efefef">
<rect x="1037" y="416.6" width="170" height="10.6"/>
<rect x="1037" y="437.8" width="170" height="10.6"/>
<rect x="1037" y="459" width="170" height="10.6"/>
<rect x="1037" y="480.2" width="170" height="10.6"/>
<rect x="1037" y="511.4" width="170" height="10.6"/>
<rect x="1037" y="542.6" width="170" height="10.6"/>
<rect x="1037" y="563.8" width="170" height="10.6"/>
<rect x="1037" y="595" width="170" height="10.6"/>
<rect x="1037" y="616.2" width="170" height="10.6"/>
<rect x="1037" y="647.4" width="170" height="10.6"/>
</g>
<g class="row">
<text x="1039" y="413.6" textLength="65">PLATJA DEN BOSSA</text>
<text x="1039" y="424.2" textLength="70">EI-700 (SANT JOSEP)</text>
<text x="1039" y="434.8" textLength="34">DES CALO</text>
<text x="1039" y="445.4" textLength="80">AEROPUERTO DE IBIZA</text>
<text x="1039" y="456" textLength="156">APARTAMENTOS DON PEPE SEC 1 POL 4 8304</text>
<text x="1039" y="466.6" textLength="44">CALA DE BOU</text>
<text x="1039" y="477.2" textLength="45">SANT AGUSTI</text>
<text x="1039" y="487.8" textLength="17">LUGO</text>
<text x="1039" y="498.4" textLength="170">DISEMINADO SANT JOSEP. (ESPECIFICAR EN PTO.</text>
<text x="1039" y="507.9" textLength="19">REF.)</text>
<text x="1039" y="519" textLength="17">JAEN</text>
<text x="1039" y="529.6" textLength="166">DISEMINADO SANT JORDI (ESPECIFICAR EN PTO.</text>
<text x="1039" y="539.1" textLength="19">REF.)</text>
<text x="1039" y="550.2" textLength="49">EI900 (SALINAS)</text>
<text x="1039" y="560.8" textLength="122">PLAYA CALA CONTA/COMTE (COSTA)</text>
<text x="1039" y="571.4" textLength="36">SA CALETA</text>
<text x="1039" y="582" textLength="160">DEPENDENCIAS DE LA POLICÍA LOCAL EN SANT</text>
<text x="1039" y="591.5" textLength="22">JORDI</text>
<text x="1039" y="602.6" textLength="30">MADRID</text>
<text x="1039" y="613.2" textLength="70">AEROPUERTO (CTRA)</text>
<text x="1039" y="623.8" textLength="62">PERE ESCANELLAS</text>
<text x="1039" y="634.4" textLength="150">DISEMINADO SANT AGUSTI. (ESPECIFICAR EN</text>
<text x="1039" y="643.9" textLength="36">PTO. REF.)</text>
<text x="1039" y="655" textLength="85">PLAYA DE SES SALINES</text>
<text x="1039" y="665.6" textLength="33">VALENCIA</text>
</g>
</svg>
</body></html>
